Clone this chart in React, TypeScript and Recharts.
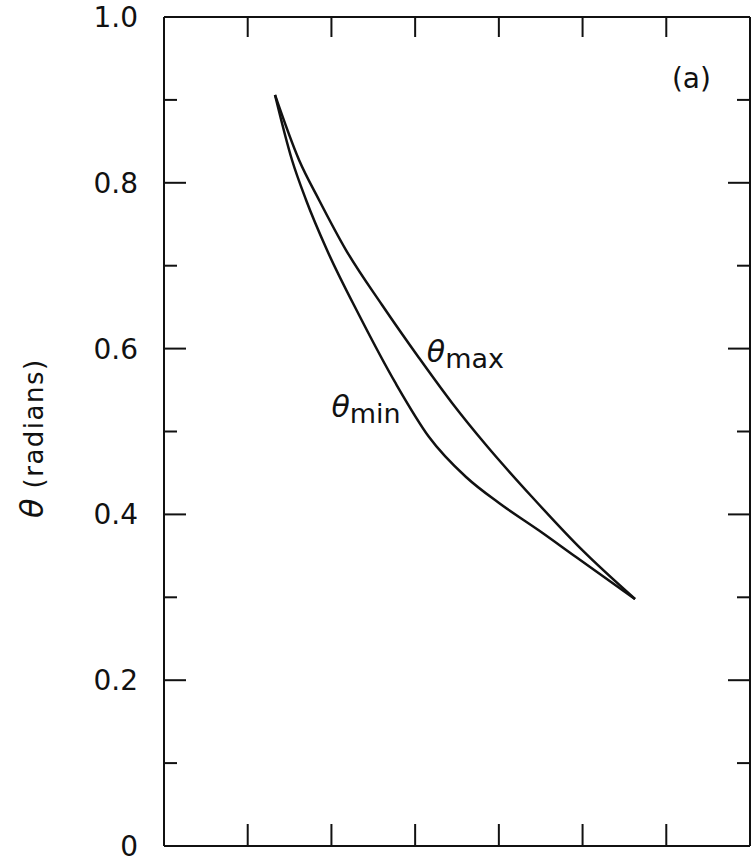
import React from 'react';
import { LineChart, Line, XAxis, YAxis, ReferenceDot } from 'recharts';

// curve points (x in tick units, y in radians)
const maxX = [1.326, 1.613, 1.852, 2.174, 2.605, 3.047, 3.441, 3.847, 4.397, 4.994, 5.627];
const maxY = [0.906, 0.8275, 0.7793, 0.7189, 0.6526, 0.5887, 0.5344, 0.4837, 0.421, 0.3571, 0.2979];
const minX = [1.326, 1.529, 1.697, 1.947, 2.33, 2.772, 3.166, 3.608, 4.002, 4.48, 4.922, 5.627];
const minY = [0.906, 0.8275, 0.7793, 0.7189, 0.6405, 0.5573, 0.4934, 0.4451, 0.4137, 0.3806, 0.3486, 0.2979];

const xTicks = [0, 1, 2, 3, 4, 5, 6, 7];
const yTicks = [0, 0.1, 0.2, 0.3, 0.4, 0.5, 0.6, 0.7, 0.8, 0.9, 1.0];
const yLabels: Record<string, string> = { '0': '0', '0.2': '0.2', '0.4': '0.4', '0.6': '0.6', '0.8': '0.8', '1': '1.0' };

const thetaMax = maxX.map((x, i) => ({ x, y: maxY[i] }));
const thetaMin = minX.map((x, i) => ({ x, y: minY[i] }));

const FONT = '"DejaVu Sans", sans-serif';
const INK = '#111';

const isMajor = (v: number) => Math.round(v * 10) % 2 === 0;

const LeftTick = (props: any) => {
  const { x, y, payload } = props;
  const v = payload.value;
  const len = isMajor(v) ? 22 : 13;
  const label = yLabels[String(Math.round(v * 10) / 10)];
  return (
    <g>
      <line x1={x} x2={x + len} y1={y} y2={y} stroke={INK} strokeWidth={2} />
      {label && (
        <text x={x - 26} y={y} dy="0.36em" textAnchor="end" fontFamily={FONT} fontSize={28} fill={INK}>
          {label}
        </text>
      )}
    </g>
  );
};

const RightTick = (props: any) => {
  const { x, y, payload } = props;
  const len = isMajor(payload.value) ? 22 : 13;
  return <line x1={x} x2={x - len} y1={y} y2={y} stroke={INK} strokeWidth={2} />;
};

const TopTick = (props: any) => {
  const { x, y } = props;
  return <line x1={x} x2={x} y1={y} y2={y + 20} stroke={INK} strokeWidth={2} />;
};

const BottomTick = (props: any) => {
  const { x, y } = props;
  return <line x1={x} x2={x} y1={y} y2={y - 22} stroke={INK} strokeWidth={2} />;
};

const AxisTitle = () => (
  <text transform="rotate(-90, 43, 518)" x={43} y={518} fontFamily={FONT} fill={INK}>
    <tspan fontSize={32} fontStyle="italic">θ</tspan>
    <tspan fontSize={26} dx={10} letterSpacing={1.5}>(radians)</tspan>
  </text>
);

const SubLabel = (main: string, sub: string) => (props: any) => (
  <text x={props.cx} y={props.cy} fontFamily={FONT} fill={INK}>
    <tspan fontSize={30} fontStyle="italic">{main}</tspan>
    <tspan fontSize={27} dy={6}>{sub}</tspan>
  </text>
);

const PanelLabel = (props: any) => (
  <text x={props.cx} y={props.cy} textAnchor="middle" fontFamily={FONT} fontSize={28} fill={INK}>
    (a)
  </text>
);

export default function App() {
  return (
    <div style={{ position: 'absolute', left: 0, top: 0, background: '#fff' }}>
      <LineChart width={755} height={866} margin={{ top: 16, right: 4, bottom: 19, left: 0 }}>
        <XAxis
          dataKey="x"
          type="number"
          domain={[0, 7]}
          ticks={xTicks}
          interval={0}
          height={1}
          tickLine={false}
          tickSize={0}
          tickMargin={0}
          tick={<BottomTick />}
          axisLine={{ stroke: INK, strokeWidth: 2 }}
          allowDataOverflow
        />
        <XAxis
          xAxisId="top"
          orientation="top"
          dataKey="x"
          type="number"
          domain={[0, 7]}
          ticks={xTicks}
          interval={0}
          height={1}
          tickLine={false}
          tickSize={0}
          tickMargin={0}
          tick={<TopTick />}
          axisLine={{ stroke: INK, strokeWidth: 2 }}
          allowDataOverflow
        />
        <YAxis
          type="number"
          domain={[0, 1]}
          ticks={yTicks}
          interval={0}
          width={164}
          tickLine={false}
          tickSize={0}
          tickMargin={0}
          tick={<LeftTick />}
          axisLine={{ stroke: INK, strokeWidth: 2 }}
          label={{ content: AxisTitle }}
          allowDataOverflow
        />
        <YAxis
          yAxisId="right"
          orientation="right"
          type="number"
          domain={[0, 1]}
          ticks={yTicks}
          interval={0}
          width={1}
          tickLine={false}
          tickSize={0}
          tickMargin={0}
          tick={<RightTick />}
          axisLine={{ stroke: INK, strokeWidth: 2 }}
          allowDataOverflow
        />
        <Line
          data={thetaMax}
          dataKey="y"
          type="monotone"
          stroke={INK}
          strokeWidth={2.5}
          dot={false}
          activeDot={false}
          isAnimationActive={false}
        />
        <Line
          data={thetaMin}
          dataKey="y"
          type="monotone"
          stroke={INK}
          strokeWidth={2.5}
          dot={false}
          activeDot={false}
          isAnimationActive={false}
        />
        <ReferenceDot x={3.14} y={0.584} shape={SubLabel('θ', 'max')} />
        <ReferenceDot x={2.0} y={0.518} shape={SubLabel('θ', 'min')} />
        <ReferenceDot x={6.3} y={0.914} shape={PanelLabel} />
      </LineChart>
    </div>
  );
}
